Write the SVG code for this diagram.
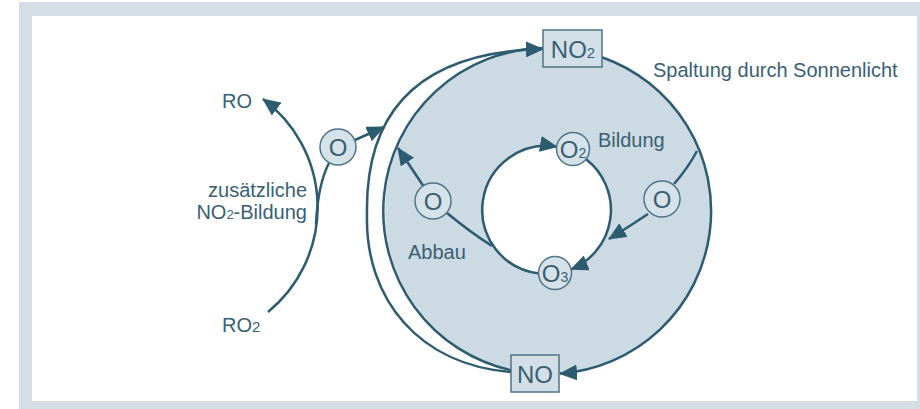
<svg xmlns="http://www.w3.org/2000/svg" width="920" height="409" viewBox="0 0 920 409">
<style>
.ln{fill:none;stroke:#2d5b70;stroke-width:2.5}
.sc{fill:#d6e2e9;stroke:#4f7487;stroke-width:1.5}
.bx{fill:#d2dfe7;stroke:#4f7487;stroke-width:1.5}
.t{font-family:"Liberation Sans",Arial,sans-serif;fill:#3a5f73;font-size:20px}
.tb{font-family:"Liberation Sans",Arial,sans-serif;fill:#3a5f73;font-size:24px;text-anchor:middle}
</style>
<defs>
<marker id="ah" markerUnits="userSpaceOnUse" markerWidth="18" markerHeight="16" viewBox="0 0 18 16" refX="17" refY="8" orient="auto">
<path d="M0,0 L18,8 L0,16 z" fill="#2d5b70"/>
</marker>
</defs>
<rect x="19" y="2" width="901" height="407" fill="#d5dee5"/>
<rect x="32" y="16" width="885" height="385" fill="#ffffff"/>
<g id="donut">
<circle cx="548" cy="211" r="163" fill="#cbdae3"/>
<circle cx="547" cy="210" r="64" fill="#ffffff"/>
</g>
<g id="connectors">
<path class="ln" d="M602,57.2 A163,163 0 0 1 560,373.6" marker-end="url(#ah)"/>
<path class="ln" d="M511,370.2 A163,163 0 0 1 543,48.1"/>
<path class="ln" d="M511,372 C420,365 365,300 367,215 C365,120 410,52 543,49" marker-end="url(#ah)"/>
<path class="ln" d="M539.2,273.5 A64,64 0 1 1 557,146.8" marker-end="url(#ah)"/>
<path class="ln" d="M586.4,159.6 A64,64 0 0 1 571,269.3" marker-end="url(#ah)"/>
<path class="ln" d="M268,312 A135,135 0 0 0 263,99" marker-end="url(#ah)"/>
<path class="ln" d="M316,224 Q318,184 329,163"/>
<path class="ln" d="M355,140 L384,127" marker-end="url(#ah)"/>
<path class="ln" d="M492,246 Q470,232 447,213"/>
<path class="ln" d="M424,187 L398,148" marker-end="url(#ah)"/>
<path class="ln" d="M697,151 Q688,168 674,184"/>
<path class="ln" d="M648,214 Q630,226 609,239" marker-end="url(#ah)"/>
</g>
<g id="no2">
<rect class="bx" x="543" y="30" width="59" height="37"/>
<text class="tb" x="573" y="58" font-size="24">NO<tspan font-size="15">2</tspan></text>
</g>
<g id="no">
<rect class="bx" x="511" y="355" width="48" height="37"/>
<text class="tb" x="535" y="383" font-size="24">NO</text>
</g>
<g id="o-outer">
<circle class="sc" cx="338" cy="147" r="18"/>
<text class="tb" x="338" y="155.5">O</text>
</g>
<g id="o-left">
<circle class="sc" cx="433" cy="201" r="18"/>
<text class="tb" x="433" y="209.5">O</text>
</g>
<g id="o-right">
<circle class="sc" cx="662" cy="199" r="18"/>
<text class="tb" x="662" y="207.5">O</text>
</g>
<g id="o2">
<circle class="sc" cx="573" cy="149" r="16.5"/>
<text class="tb" x="573" y="157.5">O<tspan font-size="14">2</tspan></text>
</g>
<g id="o3">
<circle class="sc" cx="555" cy="273" r="16.5"/>
<text class="tb" x="555" y="281.5">O<tspan font-size="14">3</tspan></text>
</g>
<g id="labels">
<text class="t" x="222" y="108" font-size="22">RO</text>
<text class="t" x="222" y="332" font-size="22">RO<tspan font-size="15">2</tspan></text>
<text class="t" x="307" y="197" text-anchor="end" font-size="19.5">zusätzliche</text>
<text class="t" x="307" y="219" text-anchor="end" font-size="19.5">NO<tspan font-size="13">2</tspan>-Bildung</text>
<text class="t" x="653" y="77" font-size="21">Spaltung durch Sonnenlicht</text>
<text class="t" x="598" y="147">Bildung</text>
<text class="t" x="408" y="259">Abbau</text>
</g>
</svg>
